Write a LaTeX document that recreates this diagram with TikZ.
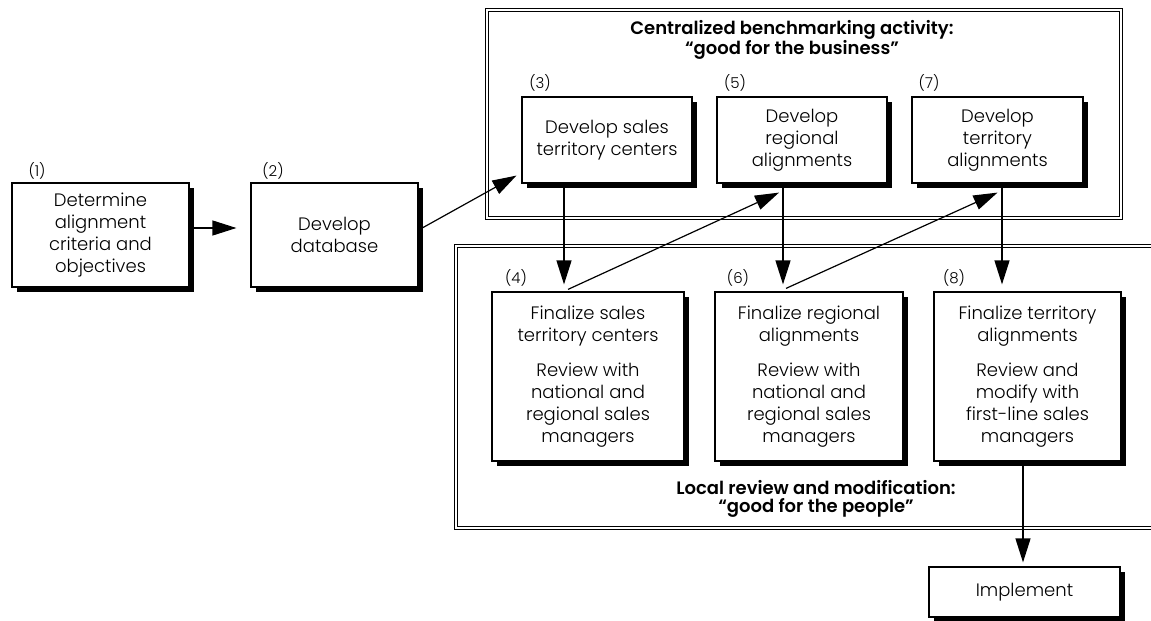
\documentclass[tikz,border=0pt]{standalone}
\usepackage{fontspec}
\setmainfont{Poppins}[UprightFont={* Light}, BoldFont={* SemiBold}]
\usetikzlibrary{arrows.meta,shadows}
\begin{document}
\begin{tikzpicture}[x=1pt,y=-1pt,
  stepbox/.style={draw=black, line width=1.2pt, fill=white, align=center, inner sep=2pt,
    font=\fontsize{18}{22}\selectfont,
    drop shadow={shadow xshift=4.5pt, shadow yshift=-5pt, fill=black, opacity=1}},
  frame/.style={draw=black, line width=1pt, double=white, double distance=2.5pt},
  num/.style={font=\fontsize{15}{16}\selectfont, inner sep=0pt},
  ttl/.style={font=\fontsize{18}{17.5}\selectfont\bfseries, align=center, inner sep=0pt},
  arr/.style={line width=1.2pt, -{Triangle[length=24pt,width=15pt]}}]
\useasboundingbox (0,0) rectangle (1151,621);
\clip (0,0) rectangle (1151,621);
% containers
\draw[frame] (487,10) rectangle (1121,218);
\draw[frame] (456,246) rectangle (1170,528);
\node[ttl] (t1) at (792,40) {Centralized benchmarking activity:\\``good for the business''};
\node[ttl] (t2) at (816,499) {Local review and modification:\\``good for the people''};
% boxes
\node[stepbox, minimum width=177pt, minimum height=104pt] (b1) at (100.5,235) {Determine\\alignment\\criteria and\\objectives};
\node[stepbox, minimum width=167pt, minimum height=104pt] (b2) at (334.5,235) {Develop\\database};
\node[stepbox, minimum width=170pt, minimum height=86pt] (b3) at (607,140) {Develop sales\\territory centers};
\node[stepbox, minimum width=170pt, minimum height=86pt] (b5) at (802,140) {Develop\\regional\\alignments};
\node[stepbox, minimum width=171pt, minimum height=86pt] (b7) at (997.5,140) {Develop\\territory\\alignments};
\node[stepbox, minimum width=192pt, minimum height=169pt] (b4) at (588,376.5) {Finalize sales\\territory centers\\[13pt]Review with\\national and\\regional sales\\managers};
\node[stepbox, minimum width=188pt, minimum height=169pt] (b6) at (809,376.5) {Finalize regional\\alignments\\[13pt]Review with\\national and\\regional sales\\managers};
\node[stepbox, minimum width=187pt, minimum height=169pt] (b8) at (1027.5,376.5) {Finalize territory\\alignments\\[13pt]Review and\\modify with\\first-line sales\\managers};
\node[stepbox, minimum width=191pt, minimum height=50pt] (bi) at (1024.5,592) {Implement};
% numbers
\node[num] (n1) at (37,171) {(1)};
\node[num] (n2) at (273,171) {(2)};
\node[num] (n3) at (540,83) {(3)};
\node[num] (n5) at (735,83) {(5)};
\node[num] (n7) at (929,83) {(7)};
\node[num] (n4) at (516,278) {(4)};
\node[num] (n6) at (738,278) {(6)};
\node[num] (n8) at (954,278) {(8)};
% arrows
\draw[arr, shorten >=14pt] ([yshift=7pt]b1.east) -- ([yshift=7pt]b2.west);
\draw[arr] ([yshift=5pt]b2.east) -- ([xshift=-5pt,yshift=8pt]b3.south west);
\draw[arr] ([xshift=-43pt]b3.south) -- ([xshift=-24pt,yshift=7pt]b4.north);
\draw[arr] ([xshift=-20pt,yshift=2pt]b4.north) -- ([xshift=-23pt,yshift=-9pt]b5.south);
\draw[arr] ([xshift=-19pt]b5.south) -- ([xshift=-26pt,yshift=7pt]b6.north);
\draw[arr] ([xshift=-23pt,yshift=3pt]b6.north) -- ([yshift=-9pt]b7.south);
\draw[arr] ([xshift=4.5pt]b7.south) -- ([xshift=-25.5pt,yshift=7pt]b8.north);
\draw[arr] ([xshift=-4.5pt]b8.south) -- ([xshift=-1.5pt,yshift=4pt]bi.north);
\end{tikzpicture}
\end{document}
